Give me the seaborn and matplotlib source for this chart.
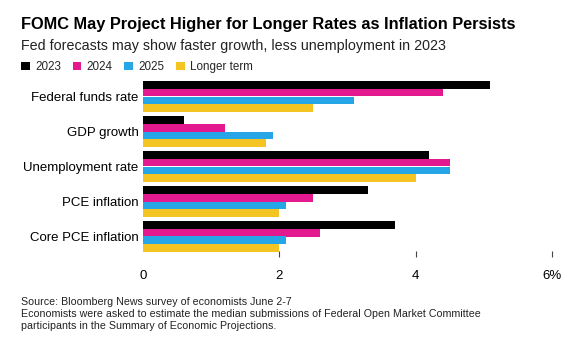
import matplotlib
matplotlib.use("Agg")
import matplotlib.pyplot as plt
import seaborn as sns
import pandas as pd
from matplotlib.patches import Patch

# Median FOMC projections expected by surveyed economists (%)
categories = ["Federal funds rate", "GDP growth", "Unemployment rate",
              "PCE inflation", "Core PCE inflation"]
horizons = ["2023", "2024", "2025", "Longer term"]
vals_2023 = [5.1, 0.6, 4.2, 3.3, 3.7]
vals_2024 = [4.4, 1.2, 4.5, 2.5, 2.6]
vals_2025 = [3.1, 1.9, 4.5, 2.1, 2.1]
vals_longer = [2.5, 1.8, 4.0, 2.0, 2.0]
x_ticks = [0, 2, 4, 6]
x_tick_labels = ["0", "2", "4", "6%"]

colors = ["#000000", "#e2198f", "#26a6e6", "#f4c423"]

df = pd.DataFrame({
    "indicator": categories * 4,
    "horizon": sum([[h] * len(categories) for h in horizons], []),
    "value": vals_2023 + vals_2024 + vals_2025 + vals_longer,
})

sns.set_theme(style="white")
plt.rcParams["font.family"] = ["Liberation Sans", "DejaVu Sans"]

W, H = 582, 346
fig = plt.figure(figsize=(W / 100, H / 100), dpi=100)

def fx(px):
    return px / W

def fy(py):
    return 1 - py / H

ax_left, ax_right = 143.3, 551.7
ax_top, ax_bot = 79.0, 254.0
ax = fig.add_axes([fx(ax_left), fy(ax_bot), fx(ax_right - ax_left), (ax_bot - ax_top) / H])

sns.barplot(data=df, y="indicator", x="value", hue="horizon",
            order=categories, hue_order=horizons, palette=colors,
            orient="h", width=0.87, saturation=1, ax=ax, legend=False,
            linewidth=0, errorbar=None)

ax.set_xlim(0, 6)
ax.set_ylim(4.5, -0.5)
ax.set_xlabel("")
ax.set_ylabel("")
for s in ax.spines.values():
    s.set_visible(False)

ax.set_xticks(x_ticks)
ax.set_xticklabels(x_tick_labels, fontsize=9.5, color="#000000")
ax.tick_params(axis="x", bottom=True, length=5, width=0.8, color="#444444",
               pad=9, direction="inout")
ax.xaxis.get_major_ticks()[0].tick1line.set_visible(False)
ax.tick_params(axis="y", left=False, length=0, pad=3.5, labelsize=9.5, labelcolor="#000000")

# Titles
fig.text(fx(21), fy(29), "FOMC May Project Higher for Longer Rates as Inflation Persists",
         fontsize=11.75, fontweight="bold", color="#000000", ha="left", va="baseline")
fig.text(fx(21), fy(50), "Fed forecasts may show faster growth, less unemployment in 2023",
         fontsize=10.3, color="#222222", ha="left", va="baseline")

# Legend
handles = [Patch(facecolor=c, edgecolor="none") for c in colors]
fig.legend(handles, horizons, loc="upper left", bbox_to_anchor=(fx(21), fy(61)),
           ncol=4, frameon=False, fontsize=8.4, handlelength=0.75, handleheight=0.75,
           handletextpad=0.45, columnspacing=1.0, borderpad=0, borderaxespad=0)

# Footer
foot_kw = dict(fontsize=7.7, color="#222222", ha="left", va="baseline")
fig.text(fx(21), fy(305), "Source: Bloomberg News survey of economists June 2-7", **foot_kw)
fig.text(fx(21), fy(317), "Economists were asked to estimate the median submissions of Federal Open Market Committee", **foot_kw)
fig.text(fx(21), fy(329), "participants in the Summary of Economic Projections.", **foot_kw)

fig.savefig("out.png", dpi=100, facecolor="white")
